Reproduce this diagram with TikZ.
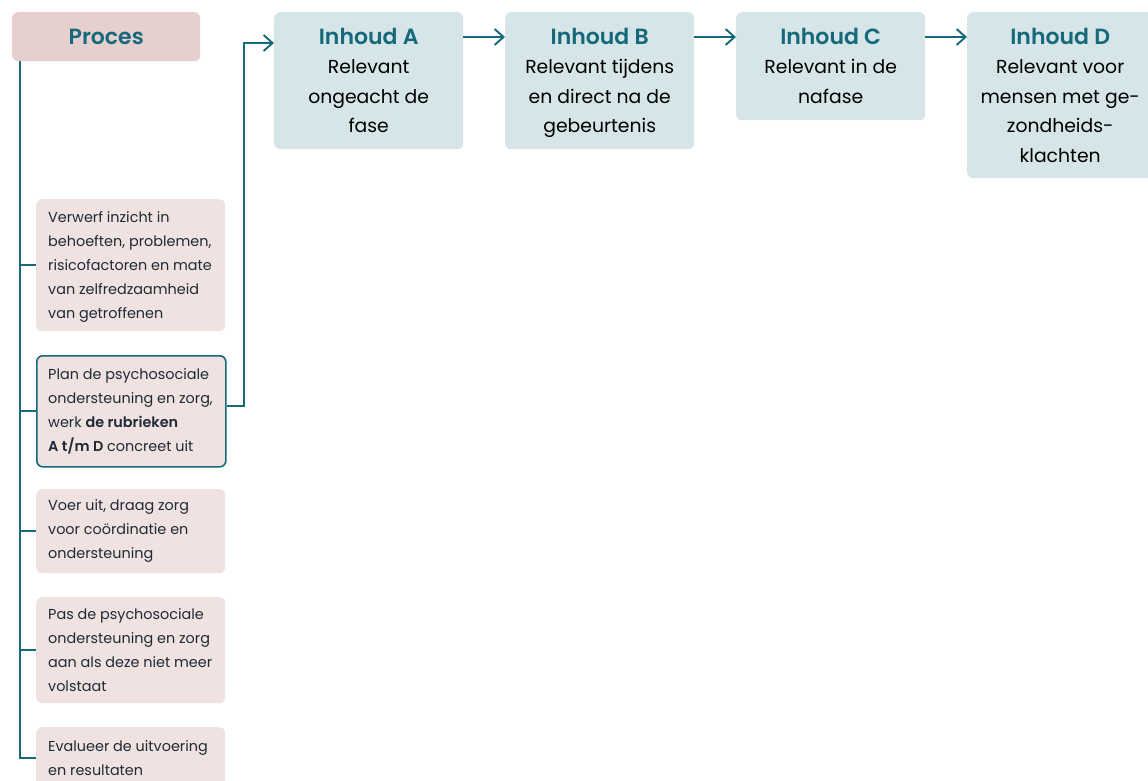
\documentclass[tikz,border=0pt]{standalone}
\usepackage{fontspec}
\setmainfont{Poppins}
\IfFontExistsTF{Poppins SemiBold}{\newfontfamily\semib{Poppins SemiBold}}{%
  \IfFontExistsTF{Poppins Medium}{\newfontfamily\semib{Poppins Medium}}{\newcommand\semib{\bfseries}}}
\usetikzlibrary{arrows.meta}
\definecolor{teal}{HTML}{15697A}
\definecolor{pinkH}{HTML}{E6CFCF}
\definecolor{pinkL}{HTML}{EFE2E1}
\definecolor{blueB}{HTML}{D6E5E8}
\definecolor{darktxt}{HTML}{1E2A35}
\newcommand\myttl[1]{{\color{teal}\fontsize{22}{29.5}\selectfont\semib #1}}
\tikzset{
  conn/.style={draw=teal, line width=1.9pt},
  arr/.style={conn, -{Straight Barb[length=9pt,width=16pt,line width=1.9pt]}},
  stepbox/.style={anchor=north west, fill=pinkL, rounded corners=6pt, minimum width=189pt, inner sep=0pt},
  steptext/.style={anchor=west, align=left, inner sep=0pt, text=darktxt,
    font=\fontsize{14.4}{24}\selectfont},
  inhoud/.style={anchor=north west, fill=blueB, rounded corners=6pt, minimum width=189pt, inner sep=0pt},
  inhoudtext/.style={anchor=north, align=center, inner sep=0pt, text=black,
    font=\fontsize{18.8}{29.5}\selectfont}
}
\begin{document}
\begin{tikzpicture}[x=1pt,y=-1pt]
\clip (0,0) rectangle (1148,780);
\fill[white] (0,0) rectangle (1148,780);

% Proces header
\node[anchor=north west, fill=pinkH, rounded corners=6pt, minimum width=188pt, minimum height=49pt,
  inner sep=0pt, text=teal, font=\fontsize{22}{24}\selectfont\semib] (proces) at (12,12) {Proces};

% step boxes
\node[stepbox, minimum height=132pt] (b1) at (36,199) {};
\node[stepbox, minimum height=111pt, draw=teal, line width=1.6pt] (b2) at (36,355) {};
\node[stepbox, minimum height=84pt] (b3) at (36,489) {};
\node[stepbox, minimum height=106pt] (b4) at (36,597) {};
\node[stepbox, minimum height=62pt] (b5) at (36,727) {};

\node[steptext] (b1t) at ([xshift=12pt,yshift=-1.5pt]b1.west)
  {Verwerf inzicht in\\behoeften, problemen,\\risicofactoren en mate\\van zelfredzaamheid\\van getroffenen};
\node[steptext] (b2t) at ([xshift=12pt]b2.west)
  {Plan de psychosociale\\ondersteuning en zorg,\\werk {\semib de rubrieken}\\{\semib A t/m D} concreet uit};
\node[steptext] (b3t) at ([xshift=12pt]b3.west)
  {Voer uit, draag zorg\\voor coördinatie en\\ondersteuning};
\node[steptext] (b4t) at ([xshift=12pt]b4.west)
  {Pas de psychosociale\\ondersteuning en zorg\\aan als deze niet meer\\volstaat};
\node[steptext] (b5t) at ([xshift=12pt]b5.west)
  {Evalueer de uitvoering\\en resultaten};

% trunk
\coordinate (trunk) at (20,61);
\draw[conn] (trunk) |- (b5.west);
\foreach \b in {b1,b2,b3,b4} \draw[conn] (\b.west) -- (\b.west -| trunk);

% Inhoud boxes
\node[inhoud, minimum height=137pt] (A) at (274,12) {};
\node[inhoud, minimum height=137pt] (B) at (505,12) {};
\node[inhoud, minimum height=108pt] (C) at (736,12) {};
\node[inhoud, minimum height=166pt, minimum width=186pt] (D) at (967,12) {};

\node[inhoudtext] (At) at ([yshift=-16pt]A.north) {\myttl{Inhoud A}\\Relevant\\ongeacht de\\fase};
\node[inhoudtext] (Bt) at ([yshift=-16pt]B.north) {\myttl{Inhoud B}\\Relevant tijdens\\en direct na de\\gebeurtenis};
\node[inhoudtext] (Ct) at ([yshift=-16pt]C.north) {\myttl{Inhoud C}\\Relevant in de\\nafase};
\node[inhoudtext] (Dt) at ([yshift=-16pt]D.north) {\myttl{Inhoud D}\\Relevant voor\\mensen met ge-\\zondheids-\\klachten};

% connectors
\coordinate (elbow) at (244,43);
\coordinate (ay) at (0,37);
\draw[arr] ([yshift=5pt]b2.east) -| (elbow) -- (elbow -| A.west);
\draw[arr] (A.east |- ay) -- (B.west |- ay);
\draw[arr] (B.east |- ay) -- (C.west |- ay);
\draw[arr] (C.east |- ay) -- (D.west |- ay);
\end{tikzpicture}
\end{document}
